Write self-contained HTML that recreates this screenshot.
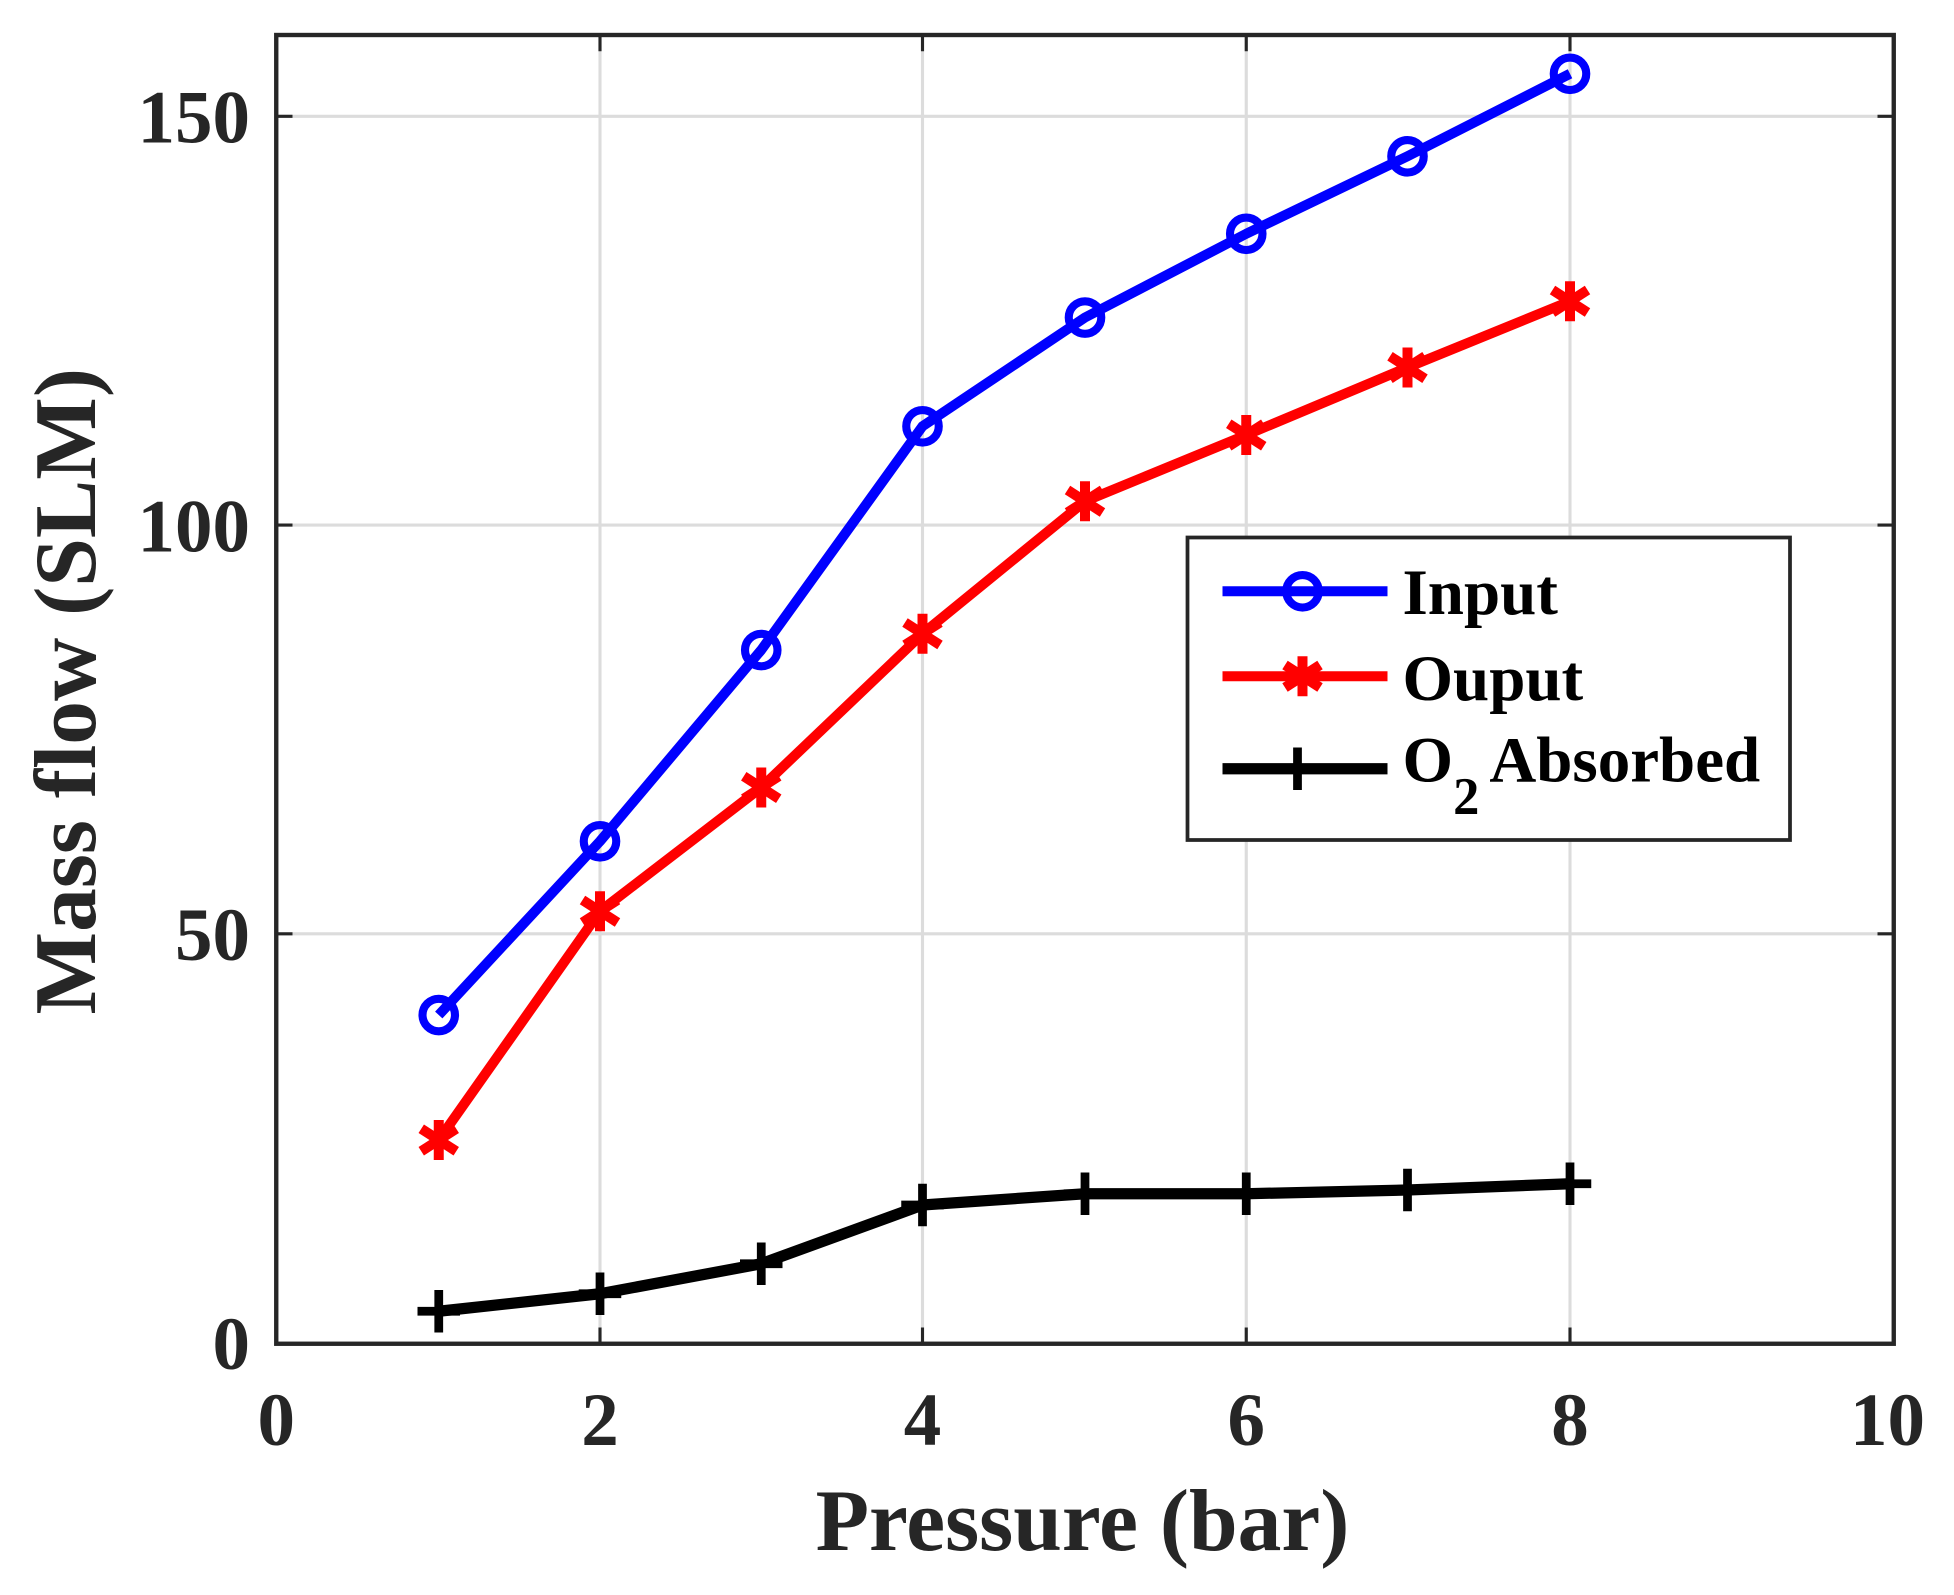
<!DOCTYPE html>
<html><head><meta charset="utf-8"><style>html,body{margin:0;padding:0;background:#fff}svg{display:block}</style></head>
<body>
<svg width="1954" height="1595" viewBox="0 0 1563.2 1276" xmlns="http://www.w3.org/2000/svg" font-family="'Liberation Serif', serif" font-weight="bold">
<rect width="1563.2" height="1276" fill="#fff"/>
<g stroke="#dcdcdc" stroke-width="2.5">
<line x1="480" y1="28" x2="480" y2="1075"/><line x1="738" y1="28" x2="738" y2="1075"/><line x1="997" y1="28" x2="997" y2="1075"/><line x1="1256" y1="28" x2="1256" y2="1075"/>
<line x1="221" y1="93" x2="1515" y2="93"/><line x1="221" y1="420" x2="1515" y2="420"/><line x1="221" y1="747" x2="1515" y2="747"/>
</g>
<g stroke="#262626" stroke-width="2.5">
<line x1="480" y1="1075" x2="480" y2="1062"/><line x1="738" y1="1075" x2="738" y2="1062"/><line x1="997" y1="1075" x2="997" y2="1062"/><line x1="1256" y1="1075" x2="1256" y2="1062"/>
<line x1="480" y1="28" x2="480" y2="41"/><line x1="738" y1="28" x2="738" y2="41"/><line x1="997" y1="28" x2="997" y2="41"/><line x1="1256" y1="28" x2="1256" y2="41"/>
<line x1="221" y1="93" x2="234" y2="93"/><line x1="221" y1="420" x2="234" y2="420"/><line x1="221" y1="747" x2="234" y2="747"/>
<line x1="1515" y1="93" x2="1502" y2="93"/><line x1="1515" y1="420" x2="1502" y2="420"/><line x1="1515" y1="747" x2="1502" y2="747"/>
</g>
<rect x="221" y="28" width="1294" height="1047" fill="none" stroke="#262626" stroke-width="3.5"/>
<g fill="#262626" font-size="60" text-anchor="middle">
<text x="221" y="1156">0</text><text x="480" y="1156">2</text><text x="738" y="1156">4</text><text x="997" y="1156">6</text><text x="1256" y="1156">8</text><text x="1510" y="1156">10</text>
</g>
<g fill="#262626" font-size="60" text-anchor="end">
<text x="200" y="1095">0</text><text x="200" y="768">50</text><text x="200" y="441">100</text><text x="200" y="114">150</text>
</g>
<text x="866" y="1240" font-size="70" fill="#262626" text-anchor="middle">Pressure (bar)</text>
<text transform="translate(76,553) rotate(-90)" font-size="70" fill="#262626" text-anchor="middle">Mass flow (SLM)</text>
<polyline fill="none" stroke="#0000ff" stroke-width="8" stroke-linejoin="round" points="351,812 480,673 609,520 738,341 868,254 997,187 1126,125 1256,59"/>
<g fill="none" stroke="#0000ff" stroke-width="6.5">
<circle cx="351" cy="812" r="13"/><circle cx="480" cy="673" r="13"/><circle cx="609" cy="520" r="13"/><circle cx="738" cy="341" r="13"/><circle cx="868" cy="254" r="13"/><circle cx="997" cy="187" r="13"/><circle cx="1126" cy="125" r="13"/><circle cx="1256" cy="59" r="13"/>
</g>
<polyline fill="none" stroke="#ff0000" stroke-width="8" stroke-linejoin="round" points="351,912 480,729 609,630 738,507 868,401 997,348 1126,294 1256,241"/>
<defs><g id="ast" stroke="#ff0000" stroke-width="8"><line x1="0" y1="-16" x2="0" y2="16"/><line x1="-14" y1="-9" x2="14" y2="9"/><line x1="-14" y1="9" x2="14" y2="-9"/></g>
<g id="plus" stroke="#000" stroke-width="7"><line x1="0" y1="-17" x2="0" y2="17"/><line x1="-17" y1="0" x2="17" y2="0"/></g></defs>
<use href="#ast" x="351" y="912"/><use href="#ast" x="480" y="729"/><use href="#ast" x="609" y="630"/><use href="#ast" x="738" y="507"/><use href="#ast" x="868" y="401"/><use href="#ast" x="997" y="348"/><use href="#ast" x="1126" y="294"/><use href="#ast" x="1256" y="241"/>
<polyline fill="none" stroke="#000" stroke-width="9" stroke-linejoin="round" points="351,1049 480,1035 609,1011 738,964 868,955 997,955 1126,952 1256,947"/>
<use href="#plus" x="351" y="1049"/><use href="#plus" x="480" y="1035"/><use href="#plus" x="609" y="1011"/><use href="#plus" x="738" y="964"/><use href="#plus" x="868" y="955"/><use href="#plus" x="997" y="955"/><use href="#plus" x="1126" y="952"/><use href="#plus" x="1256" y="947"/>
<rect x="950" y="430" width="482" height="242" fill="#fff" stroke="#262626" stroke-width="3"/>
<line x1="978" y1="473" x2="1110" y2="473" stroke="#0000ff" stroke-width="8"/>
<circle cx="1042" cy="473" r="13" fill="none" stroke="#0000ff" stroke-width="6.5"/>
<line x1="978" y1="541" x2="1110" y2="541" stroke="#ff0000" stroke-width="8"/>
<use href="#ast" x="1042" y="541"/>
<line x1="978" y1="615" x2="1110" y2="615" stroke="#000" stroke-width="9"/>
<use href="#plus" x="1038" y="615"/>
<g font-size="52" fill="#000">
<text x="1122" y="491">Input</text>
<text x="1122" y="560">Ouput</text>
<text x="1122" y="625">O<tspan font-size="42" dy="26">2</tspan><tspan dy="-26" dx="8">Absorbed</tspan></text>
</g>
</svg>
</body></html>
